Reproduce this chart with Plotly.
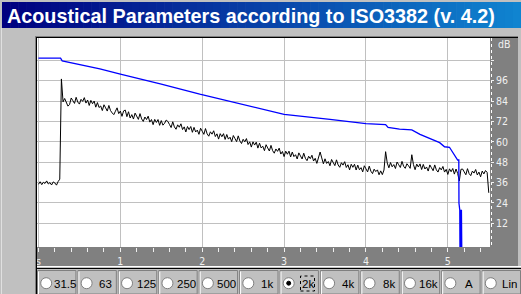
import numpy as np
import plotly.graph_objects as go

TITLE = "Acoustical Parameters according to ISO3382 (v. 4.2)"

# Energy-time curve (black), sampled every DT seconds, values in dB
DT = 0.02
ir_db = [
    35.0, 36.5, 34.8, 36.2, 35.5, 37.0, 35.2, 36.0, 34.6, 36.4, 35.8, 34.5, 36.6, 38.0,
    97.0, 83.5,
    85.5, 83.0, 81.0, 82.0, 85.8, 84.2, 82.6, 86.2, 83.4, 82.2, 85.0, 83.8, 86.0, 82.8,
    84.6, 81.4, 84.4, 82.4, 84.0, 80.4, 83.1, 80.2, 81.1, 78.4, 81.8, 80.0, 78.1, 81.4,
    78.4, 77.0, 76.0, 78.0, 80.0, 76.6, 78.1, 75.0, 78.2, 78.7, 74.8, 77.7, 74.0, 76.0,
    73.4, 76.9, 75.1, 73.2, 76.6, 73.5, 72.0, 74.6, 73.1, 75.1, 71.6, 73.1, 70.1, 73.2,
    71.4, 73.1, 69.7, 72.5, 69.8, 70.9, 72.8, 72.0, 70.2, 68.4, 71.8, 68.8, 67.4, 70.0,
    68.6, 70.6, 67.2, 68.8, 65.8, 69.0, 67.2, 69.0, 65.6, 68.5, 65.8, 66.9, 64.4, 68.0,
    66.2, 64.4, 67.8, 64.7, 63.3, 65.9, 64.5, 66.5, 63.1, 64.7, 61.6, 64.8, 63.0, 64.8,
    61.4, 64.3, 61.6, 62.7, 60.1, 63.7, 61.9, 60.1, 63.5, 60.5, 59.0, 61.5, 60.0, 61.9,
    58.4, 60.0, 56.9, 60.0, 58.1, 59.8, 56.3, 59.2, 56.4, 57.4, 54.8, 58.3, 56.4, 54.6,
    57.9, 54.8, 53.3, 55.8, 54.4, 56.3, 52.8, 54.3, 51.3, 54.5, 52.7, 54.5, 51.1, 54.0,
    51.3, 52.4, 49.9, 53.5, 51.7, 49.9, 53.3, 50.3, 48.9, 51.5, 50.1, 52.1, 48.7, 50.3,
    47.3, 50.5, 54.0, 50.5, 47.1, 50.0, 47.3, 48.4, 45.9, 49.6, 47.8, 46.0, 49.4, 46.4,
    45.0, 47.7, 46.3, 48.3, 44.9, 46.5, 43.5, 46.8, 45.0, 46.8, 43.4, 46.3, 43.6, 44.8,
    42.3, 45.9, 44.1, 42.3, 45.7, 42.7, 41.3, 43.9, 42.5, 43.5, 40.6, 42.9, 40.7, 43.4,
    54.2, 47.5, 44.7, 47.8, 45.3, 46.6, 44.3, 48.1, 46.5, 44.9, 48.5, 45.6, 44.4, 47.1,
    45.9, 44.4, 52.4, 46.6, 43.6, 46.9, 45.2, 47.0, 43.7, 46.7, 44.0, 45.2, 42.8, 46.4,
    44.7, 43.0, 46.4, 43.5, 42.2, 44.8, 43.5, 45.5, 42.2, 43.8, 40.8, 44.1, 42.4, 44.3,
    41.0, 44.0, 41.4, 37.0, 43.8, 44.0, 42.3, 40.6, 44.2, 41.3, 40.1, 42.8, 41.6, 43.7,
    40.5, 42.2, 39.4, 42.8, 41.1, 43.1, 42.0, 30.0,
]
ir_t = np.arange(len(ir_db)) * DT  # sample instants

# Backward-integrated decay curve (blue)
sch_t = [0.0, 0.27, 0.29, 0.75, 1.0, 1.5, 1.97, 2.58, 3.0, 3.56, 4.0, 4.24, 4.27,
         4.41, 4.56, 4.66, 4.78, 4.9, 4.96, 5.02, 5.12, 5.134, 5.136, 5.146, 5.148,
         5.156, 5.16, 5.166, 5.17]
sch_db = [109.2, 109.2, 107.6, 102.9, 99.8, 94.0, 88.0, 81.1, 76.2, 73.2, 70.7, 70.1, 68.5,
          67.5, 67.0, 64.4, 62.1, 59.5, 57.1, 56.8, 49.3, 49.3, 23.8, 19.8, -2.0,
          20.0, -2.0, 20.0, -2.0]

x_tickvals = [0, 1, 2, 3, 4, 5]
x_ticktext = ["s", "1", "2", "3", "4", "5"]
y_tickvals = [12, 24, 36, 48, 60, 72, 84, 96, 108]
y_ticktext = ["12", "24", "36", "48", "60", "72", "84", "96", ""]
y_unit = "dB"
bands = ["31.5", "63", "125", "250", "500", "1k", "2k", "4k", "8k", "16k", "A", "Lin"]
selected = "2k"

# ---------------- layout geometry (pixels) ----------------
FW, FH = 521, 294
L, R, T, B = 37, 490, 38, 247


def px(x):
    return (x - L) / (R - L)


def py(y):
    return (B - y) / (B - T)


shapes = []
annotations = []

# title bar gradient
n = 64
c0 = np.array([0, 0, 128])
c1 = np.array([16, 132, 208])
for i in range(n):
    f = i / (n - 1)
    c = (c0 + (c1 - c0) * f).astype(int)
    xa = 2 + i * (FW - 2) / n
    xb = 2 + (i + 1) * (FW - 2) / n + 0.6
    shapes.append(dict(type="rect", xref="paper", yref="paper",
                       x0=px(xa), x1=px(xb), y0=py(28), y1=py(2),
                       fillcolor=f"rgb({c[0]},{c[1]},{c[2]})", line=dict(width=0), layer="below"))

annotations.append(dict(text=TITLE, xref="paper", yref="paper", x=px(4.5), y=py(15.5),
                        xanchor="left", yanchor="middle", showarrow=False,
                        font=dict(family="Liberation Sans", size=19.8, color="white", weight="bold")))

# dark axis strips
shapes.append(dict(type="rect", xref="paper", yref="paper", x0=px(490), x1=px(518),
                   y0=py(266), y1=py(38), fillcolor="#808080", line=dict(width=0), layer="below"))
shapes.append(dict(type="rect", xref="paper", yref="paper", x0=px(37), x1=px(518),
                   y0=py(266), y1=py(247), fillcolor="#808080", line=dict(width=0), layer="below"))
# dotted axis line in right strip
shapes.append(dict(type="line", xref="paper", yref="paper", x0=px(491.5), x1=px(491.5),
                   y0=py(38), y1=py(247), line=dict(color="white", width=1, dash="dot"), layer="below"))

# frame lines
shapes.append(dict(type="line", xref="paper", yref="paper", x0=px(35.5), x1=px(35.5),
                   y0=py(36.5), y1=py(294), line=dict(color="#808080", width=1)))
shapes.append(dict(type="line", xref="paper", yref="paper", x0=px(36.5), x1=px(36.5),
                   y0=py(37.5), y1=py(294), line=dict(color="black", width=1)))
shapes.append(dict(type="line", xref="paper", yref="paper", x0=px(35), x1=px(518),
                   y0=py(36.5), y1=py(36.5), line=dict(color="#808080", width=1)))
shapes.append(dict(type="line", xref="paper", yref="paper", x0=px(36), x1=px(518),
                   y0=py(37.5), y1=py(37.5), line=dict(color="black", width=1)))
shapes.append(dict(type="line", xref="paper", yref="paper", x0=px(37), x1=px(521),
                   y0=py(266.5), y1=py(266.5), line=dict(color="white", width=1)))
shapes.append(dict(type="line", xref="paper", yref="paper", x0=px(36), x1=px(521),
                   y0=py(268.5), y1=py(268.5), line=dict(color="black", width=1)))
shapes.append(dict(type="line", xref="paper", yref="paper", x0=px(1.5), x1=px(1.5),
                   y0=py(28), y1=py(294), line=dict(color="#e0e0e0", width=1), layer="below"))

# "dB" unit label
annotations.append(dict(text=y_unit, xref="paper", yref="paper", x=px(495.5), y=py(44),
                        xanchor="left", yanchor="middle", showarrow=False,
                        font=dict(family="Liberation Sans Narrow, DejaVu Sans Condensed", size=10.5, color="#f0f0f0")))

# radio button row
cw = (FW - 36) / len(bands)
for i, lab in enumerate(bands):
    x0 = 36 + i * cw
    shapes.append(dict(type="rect", xref="paper", yref="paper", x0=px(x0 + 1.5), x1=px(x0 + cw - 0.5),
                       y0=py(294), y1=py(270.5), line=dict(color="#808080", width=1), fillcolor="rgba(0,0,0,0)"))
    shapes.append(dict(type="line", xref="paper", yref="paper", x0=px(x0 + 2.5), x1=px(x0 + 2.5),
                       y0=py(294), y1=py(271.5), line=dict(color="white", width=1)))
    cx, cy, r = x0 + 10.2, 283.2, 5.5
    shapes.append(dict(type="circle", xref="paper", yref="paper", x0=px(cx - r), x1=px(cx + r),
                       y0=py(cy + r), y1=py(cy - r), fillcolor="white", line=dict(color="#808080", width=1)))
    if lab == selected:
        rr = 2.0
        shapes.append(dict(type="circle", xref="paper", yref="paper", x0=px(cx - rr), x1=px(cx + rr),
                           y0=py(cy + rr), y1=py(cy - rr), fillcolor="black", line=dict(color="black", width=1)))
        shapes.append(dict(type="rect", xref="paper", yref="paper", x0=px(x0 + 22), x1=px(x0 + 36),
                           y0=py(291), y1=py(276), line=dict(color="black", width=1, dash="dot"),
                           fillcolor="rgba(0,0,0,0)"))
    annotations.append(dict(text=lab, xref="paper", yref="paper", x=px(x0 + 29.2), y=py(283.5),
                            xanchor="center", yanchor="middle", showarrow=False,
                            font=dict(family="Liberation Sans", size=11.5, color="black")))

fig = go.Figure()
fig.add_trace(go.Scatter(x=ir_t, y=ir_db, mode="lines", line=dict(color="black", width=1),
                         hoverinfo="skip", showlegend=False))
fig.add_trace(go.Scatter(x=sch_t, y=sch_db, mode="lines", line=dict(color="#0000ff", width=1.3),
                         hoverinfo="skip", showlegend=False))

tickfont = dict(family="Liberation Sans Narrow, DejaVu Sans Condensed", size=10.5, color="#f0f0f0")
fig.update_layout(
    width=FW, height=FH,
    margin=dict(l=L, r=FW - R, t=T, b=FH - B, pad=0),
    paper_bgcolor="#c0c0c0", plot_bgcolor="white",
    shapes=shapes, annotations=annotations,
    xaxis=dict(range=[-0.018, 5.515], tickvals=x_tickvals, ticktext=x_ticktext,
               showgrid=True, gridcolor="#c0c0c0", gridwidth=1, zeroline=False,
               ticks="outside", ticklen=4, tickcolor="#f0f0f0", tickwidth=1,
               minor=dict(dtick=0.2, ticks="outside", ticklen=4, tickcolor="#f0f0f0", showgrid=False),
               tickfont=tickfont, showline=False, fixedrange=True),
    yaxis=dict(range=[-1.9, 121.1], side="right", tickvals=y_tickvals, ticktext=y_ticktext,
               showgrid=True, gridcolor="#c0c0c0", gridwidth=1, zeroline=False,
               ticks="outside", ticklen=3, tickcolor="#f0f0f0", tickwidth=1,
               tickfont=tickfont, showline=False, fixedrange=True),
)

fig.write_html("out.html", config={"displayModeBar": False, "staticPlot": True})
